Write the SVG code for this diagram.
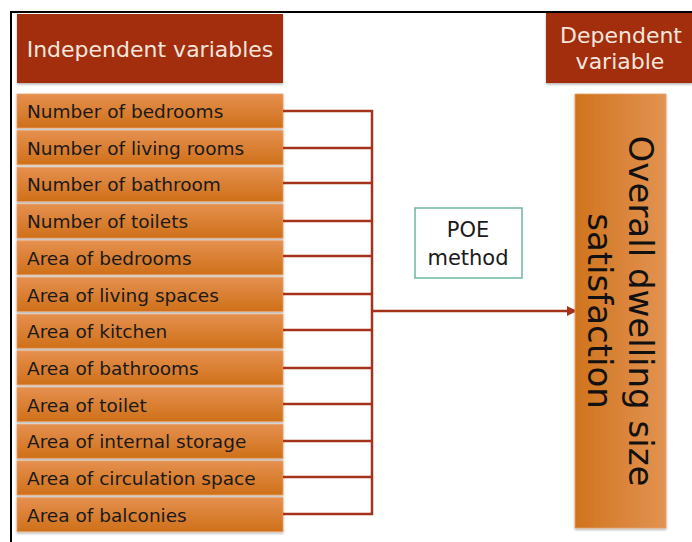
<svg xmlns="http://www.w3.org/2000/svg" width="692" height="542" viewBox="0 0 692 542">
<style>
.hdr{fill:#A32E10}
.hdrt{fill:#F5E6DE;font-family:"DejaVu Sans",sans-serif;font-size:22px}
.row rect{fill:url(#rowg);stroke:#E9A068;stroke-width:0.8}
.row text{fill:#1a1a1a;font-family:"DejaVu Sans",sans-serif;font-size:18.5px}
.conn{stroke:#A5321A;stroke-width:2.5;fill:none}
.poe{fill:#fff;stroke:#6DB6A0;stroke-width:1.5}
.poet{fill:#1a1a1a;font-family:"DejaVu Sans",sans-serif;font-size:21px;text-anchor:middle}
.big{fill:#111;font-family:"DejaVu Sans",sans-serif;font-size:34px;text-anchor:middle}
</style>
<defs>
<linearGradient id="rowg" x1="0" y1="0" x2="0" y2="1">
<stop offset="0" stop-color="#E5904F"/>
<stop offset="1" stop-color="#CF7019"/>
</linearGradient>
<linearGradient id="depg" x1="0" y1="0" x2="1" y2="0">
<stop offset="0" stop-color="#D0741D"/>
<stop offset="1" stop-color="#E29352"/>
</linearGradient>
<filter id="sh" x="-5%" y="-5%" width="110%" height="120%">
<feDropShadow dx="0" dy="1.5" stdDeviation="1.2" flood-color="#000" flood-opacity="0.3"/>
</filter>
<marker id="arr" viewBox="0 0 10 10" refX="9" refY="5" markerWidth="4" markerHeight="4" orient="auto" markerUnits="strokeWidth">
<path d="M0,0 L10,5 L0,10 z" fill="#A5321A"/>
</marker>
</defs>
<rect width="692" height="542" fill="#fff"/>
<path d="M11,542 V12 H692" stroke="#000" stroke-width="2" fill="none"/>

<g id="header-independent">
<rect class="hdr" x="17" y="14" width="266" height="69" filter="url(#sh)"/>
<text class="hdrt" x="150" y="57" text-anchor="middle">Independent variables</text>
</g>
<g id="header-dependent">
<rect class="hdr" x="546" y="13" width="146" height="70" filter="url(#sh)"/>
<text class="hdrt" x="621" y="43" text-anchor="middle">Dependent</text>
<text class="hdrt" x="620" y="69" text-anchor="middle">variable</text>
</g>

<g id="row1" class="row"><rect x="17" y="94" width="266" height="34" filter="url(#sh)"/><text x="27" y="118">Number of bedrooms</text></g>
<g id="row2" class="row"><rect x="17" y="130.7" width="266" height="34" filter="url(#sh)"/><text x="27" y="154.7">Number of living rooms</text></g>
<g id="row3" class="row"><rect x="17" y="167.4" width="266" height="34" filter="url(#sh)"/><text x="27" y="191.4">Number of bathroom</text></g>
<g id="row4" class="row"><rect x="17" y="204.1" width="266" height="34" filter="url(#sh)"/><text x="27" y="228.1">Number of toilets</text></g>
<g id="row5" class="row"><rect x="17" y="240.8" width="266" height="34" filter="url(#sh)"/><text x="27" y="264.8">Area of bedrooms</text></g>
<g id="row6" class="row"><rect x="17" y="277.5" width="266" height="34" filter="url(#sh)"/><text x="27" y="301.5">Area of living spaces</text></g>
<g id="row7" class="row"><rect x="17" y="314.2" width="266" height="34" filter="url(#sh)"/><text x="27" y="338.2">Area of kitchen</text></g>
<g id="row8" class="row"><rect x="17" y="350.9" width="266" height="34" filter="url(#sh)"/><text x="27" y="374.9">Area of bathrooms</text></g>
<g id="row9" class="row"><rect x="17" y="387.6" width="266" height="34" filter="url(#sh)"/><text x="27" y="411.6">Area of toilet</text></g>
<g id="row10" class="row"><rect x="17" y="424.3" width="266" height="34" filter="url(#sh)"/><text x="27" y="448.3">Area of internal storage</text></g>
<g id="row11" class="row"><rect x="17" y="461" width="266" height="34" filter="url(#sh)"/><text x="27" y="485">Area of circulation space</text></g>
<g id="row12" class="row"><rect x="17" y="497.7" width="266" height="34" filter="url(#sh)"/><text x="27" y="521.7">Area of balconies</text></g>

<g id="connectors">
<path class="conn" d="M283,111 H372 M283,148 H372 M283,183 H372 M283,221 H372 M283,256 H372 M283,294 H372 M283,330 H372 M283,368 H372 M283,404 H372 M283,441 H372 M283,477 H372 M283,514 H372 M372,109.8 V515.2"/>
<path class="conn" d="M372,311 H576" marker-end="url(#arr)"/>
</g>

<g id="poe">
<rect class="poe" x="415" y="208" width="107" height="70"/>
<text class="poet" x="468" y="237">POE</text>
<text class="poet" x="468" y="265">method</text>
</g>

<g id="dependent">
<rect x="575" y="94" width="91" height="434" fill="url(#depg)" stroke="#E6A06A" stroke-width="0.8" filter="url(#sh)"/>
<g transform="translate(629,311) rotate(90)">
<text class="big" x="0" y="0">Overall dwelling size</text>
<text class="big" x="0" y="41">satisfaction</text>
</g>
</g>
</svg>
